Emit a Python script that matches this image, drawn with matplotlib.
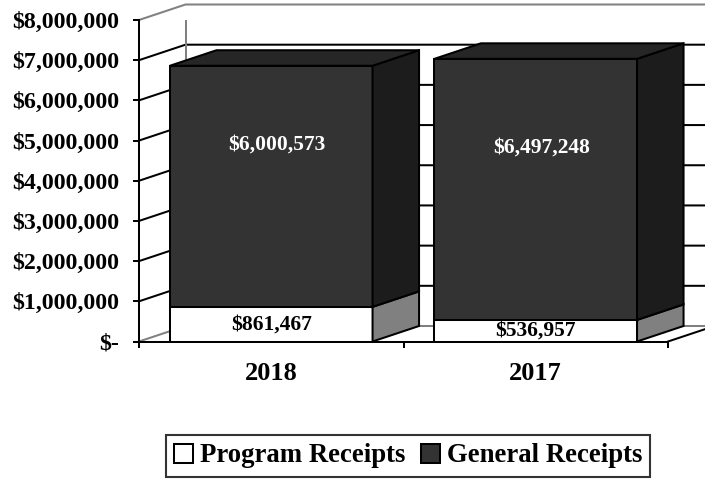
import numpy as np
import matplotlib as mpl
mpl.use('Agg')
import matplotlib.pyplot as plt
from matplotlib.patches import Polygon, Patch
from matplotlib.ticker import FuncFormatter

years = ['2018', '2017']
program = [861467, 536957]
general = [6000573, 6497248]
series_names = ['Program Receipts', 'General Receipts']
yticks = np.arange(0, 8000001, 1000000)

plt.rcParams['font.family'] = 'Liberation Serif'
plt.rcParams['font.weight'] = 'bold'

W, H = 705, 480
fig = plt.figure(figsize=(W / 100, H / 100), dpi=100)

# front plane of the 3d box, in pixels
x0px, x1px, y0px, y1px = 139, 668, 341.5, 20
ax = fig.add_axes([x0px / W, 1 - y0px / H, (x1px - x0px) / W, (y0px - y1px) / H])
ax.set_xlim(-0.5, 1.5)
ax.set_ylim(0, 8e6)

# depth offset, pixels -> data units
ux = (x1px - x0px) / 2.0
uy = (y0px - y1px) / 8e6
dx = 46.5 / ux
dy = 15.5 / uy
lw = 1.45

# walls and gridlines
xend = -0.5 + (W - x0px + 20) / ux
for v in yticks:
    c = '#808080' if v in (0, 8e6) else 'black'
    ax.plot([-0.5, -0.5 + dx, xend], [v, v + dy, v + dy], color=c, lw=lw,
            clip_on=False, zorder=1, solid_capstyle='butt')
ax.plot([-0.5 + dx] * 2, [dy, 8e6 + dy], color='#808080', lw=lw, zorder=1)
ax.plot([1.5, 1.5 + dx], [0, dy], color='black', lw=lw, clip_on=False, zorder=1)

# bars: front faces + side faces + top
x = np.arange(len(years))
bw = 0.766
front_cols = ['white', '#333333']
side_cols = ['#808080', '#1c1c1c']
top_col = '#262626'
bottoms = [np.zeros(len(years)), np.array(program)]
for vals, bot, fc, sc in zip([program, general], bottoms, front_cols, side_cols):
    ax.bar(x, vals, bw, bottom=bot, color=fc, edgecolor='black', lw=lw, zorder=3)
    for xi, b, v in zip(x, bot, vals):
        xr = xi + bw / 2
        ax.add_patch(Polygon([[xr, b], [xr + dx, b + dy], [xr + dx, b + v + dy], [xr, b + v]],
                             fc=sc, ec='black', lw=lw, zorder=3, clip_on=False))
tops = np.array(program) + np.array(general)
for xi, t in zip(x, tops):
    xl, xr = xi - bw / 2, xi + bw / 2
    ax.add_patch(Polygon([[xl, t], [xl + dx, t + dy], [xr + dx, t + dy], [xr, t]],
                         fc=top_col, ec='black', lw=lw, zorder=3, clip_on=False))

# value labels
for xi, p, g in zip(x, program, general):
    ax.text(xi, p / 2, '${:,}'.format(p), ha='center', va='center',
            fontsize=15.5, color='black', zorder=5)
    ax.annotate('${:,}'.format(g), (xi, p + g / 2), xytext=(4, 30), textcoords='offset points',
                ha='center', va='center', fontsize=15.5, color='white', zorder=5)

# axes
for s in ['top', 'right']:
    ax.spines[s].set_visible(False)
for s in ['left', 'bottom']:
    ax.spines[s].set_linewidth(lw)
ax.set_yticks(yticks)
ax.yaxis.set_major_formatter(FuncFormatter(lambda v, pos: '$-' if v == 0 else '${:,.0f}'.format(v)))
ax.tick_params(axis='y', direction='out', length=4.3, width=lw, pad=10, labelsize=17.2)
ax.set_xticks(x)
ax.set_xticklabels(years)
ax.set_xticks([-0.5, 0.5, 1.5], minor=True)
ax.tick_params(axis='x', which='major', length=0, pad=15, labelsize=19)
ax.tick_params(axis='x', which='minor', direction='out', length=4.3, width=lw)

handles = [Patch(facecolor=c, edgecolor='black', lw=lw) for c in front_cols]
leg = fig.legend(handles, series_names, loc='center', bbox_to_anchor=(408 / W, 1 - 456 / H),
                 ncol=2, fontsize=19.3, frameon=True, fancybox=False, edgecolor='black',
                 handlelength=0.7, handleheight=0.7, handletextpad=0.25,
                 columnspacing=0.6, borderpad=0.3, borderaxespad=0)
leg.get_frame().set_linewidth(1.5)

fig.savefig('out.png', dpi=100)
